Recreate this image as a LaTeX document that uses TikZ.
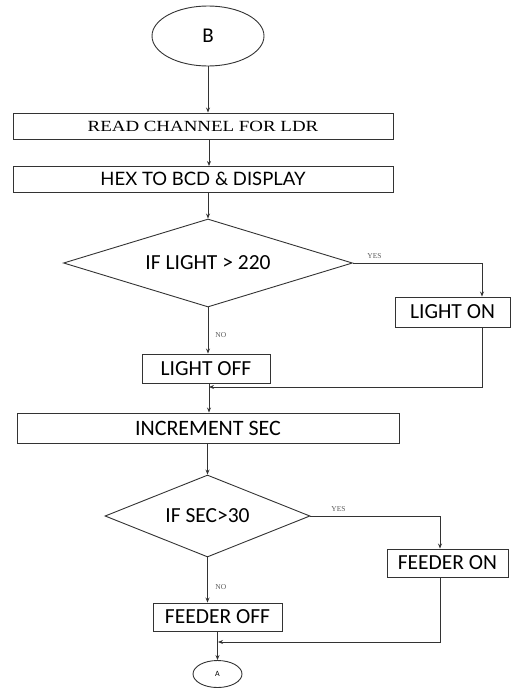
\documentclass[tikz,border=0pt]{standalone}
\usepackage{fontspec}
\setmainfont{Carlito}
\newfontfamily\serifwide[FakeStretch=1.22]{Liberation Serif}
\newfontfamily\labelfont{Liberation Serif}
\newfontfamily\latofont{Lato}
\usetikzlibrary{shapes.geometric,arrows.meta}
\begin{document}
\begin{tikzpicture}[x=1pt,y=-1pt,
  line width=0.9pt,
  box/.style={draw=black!80,rectangle,inner sep=0pt,font=\fontsize{21.5}{23}\selectfont},
  decision/.style={draw=black!80,diamond,inner sep=0pt,font=\fontsize{21.5}{23}\selectfont},
  terminal/.style={draw=black!80,ellipse,inner sep=0pt},
  flow/.style={draw=black!80,-{Stealth[length=5pt,width=4pt]}},
  tag/.style={font=\labelfont\fontsize{7.5}{8}\selectfont,text=black!65,inner sep=0pt}]
\useasboundingbox (0,0) rectangle (531,688);

% start connector
\node[terminal,minimum width=112pt,minimum height=60pt,font=\fontsize{21}{22}\selectfont] (B) at (208,36) {B};

% sensor reading and display
\node[box,minimum width=380pt,minimum height=26pt,font=\serifwide\fontsize{15.5}{17}\selectfont] (read) at (203,126) {READ CHANNEL FOR LDR};
\node[box,minimum width=380pt,minimum height=26pt,font=\latofont\fontsize{18.5}{20}\selectfont] (hex) at (203,179) {HEX TO BCD \& DISPLAY};

% light decision
\node[decision,aspect=3.28,minimum width=289pt,minimum height=88pt] (d1) at (208,263) {IF LIGHT > 220};
\node[box,minimum width=115pt,minimum height=30pt] (lon) at (452.5,312) {LIGHT ON};
\node[box,minimum width=128pt,minimum height=29pt] (loff) at (206,368.5) {LIGHT OFF};
\node[box,minimum width=382pt,minimum height=30pt,font=\fontsize{22}{23}\selectfont] (inc) at (208,428) {INCREMENT SEC};

% feeder decision
\node[decision,aspect=2.5,minimum width=205pt,minimum height=82pt] (d2) at (207.5,516) {IF SEC>30};
\node[box,minimum width=121pt,minimum height=28pt] (fon) at (447.5,563) {FEEDER ON};
\node[box,minimum width=129pt,minimum height=28pt] (foff) at (217.5,617) {FEEDER OFF};

% end connector
\node[terminal,minimum width=49pt,minimum height=27pt,font=\fontsize{8}{9}\selectfont] (A) at (217.5,674) {A};

% branch labels
\node[tag,anchor=south west] (yes1) at (367,259) {YES};
\node[tag,anchor=west] (no1) at (215,335) {NO};
\node[tag,anchor=south west] (yes2) at (331,512) {YES};
\node[tag,anchor=west] (no2) at (215,587) {NO};

% merge points
\coordinate (j1) at (209,387);
\coordinate (j2) at (218,642);

% connectors
\draw[flow] (B.south) -- (B.south |- read.north);
\draw[flow] (209,139) -- (209,166);
\draw[flow] (hex.south -| d1.north) -- (d1.north);
\draw[flow] (d1.east) -| ([xshift=29.5pt]lon.north);
\draw[flow] (d1.south) -- (d1.south |- loff.north);
\draw[flow] ([xshift=29.5pt]lon.south) |- (j1);
\draw[flow] (j1 |- loff.south) -- (j1 |- inc.north);
\draw[flow] (inc.south -| d2.north) -- (d2.north);
\draw[flow] (d2.east) -| ([xshift=-7.5pt]fon.north);
\draw[flow] (d2.south) -- (d2.south |- foff.north);
\draw[flow] ([xshift=-7.5pt]fon.south) |- (j2);
\draw[flow] (foff.south) -- (A.north);
\end{tikzpicture}
\end{document}
